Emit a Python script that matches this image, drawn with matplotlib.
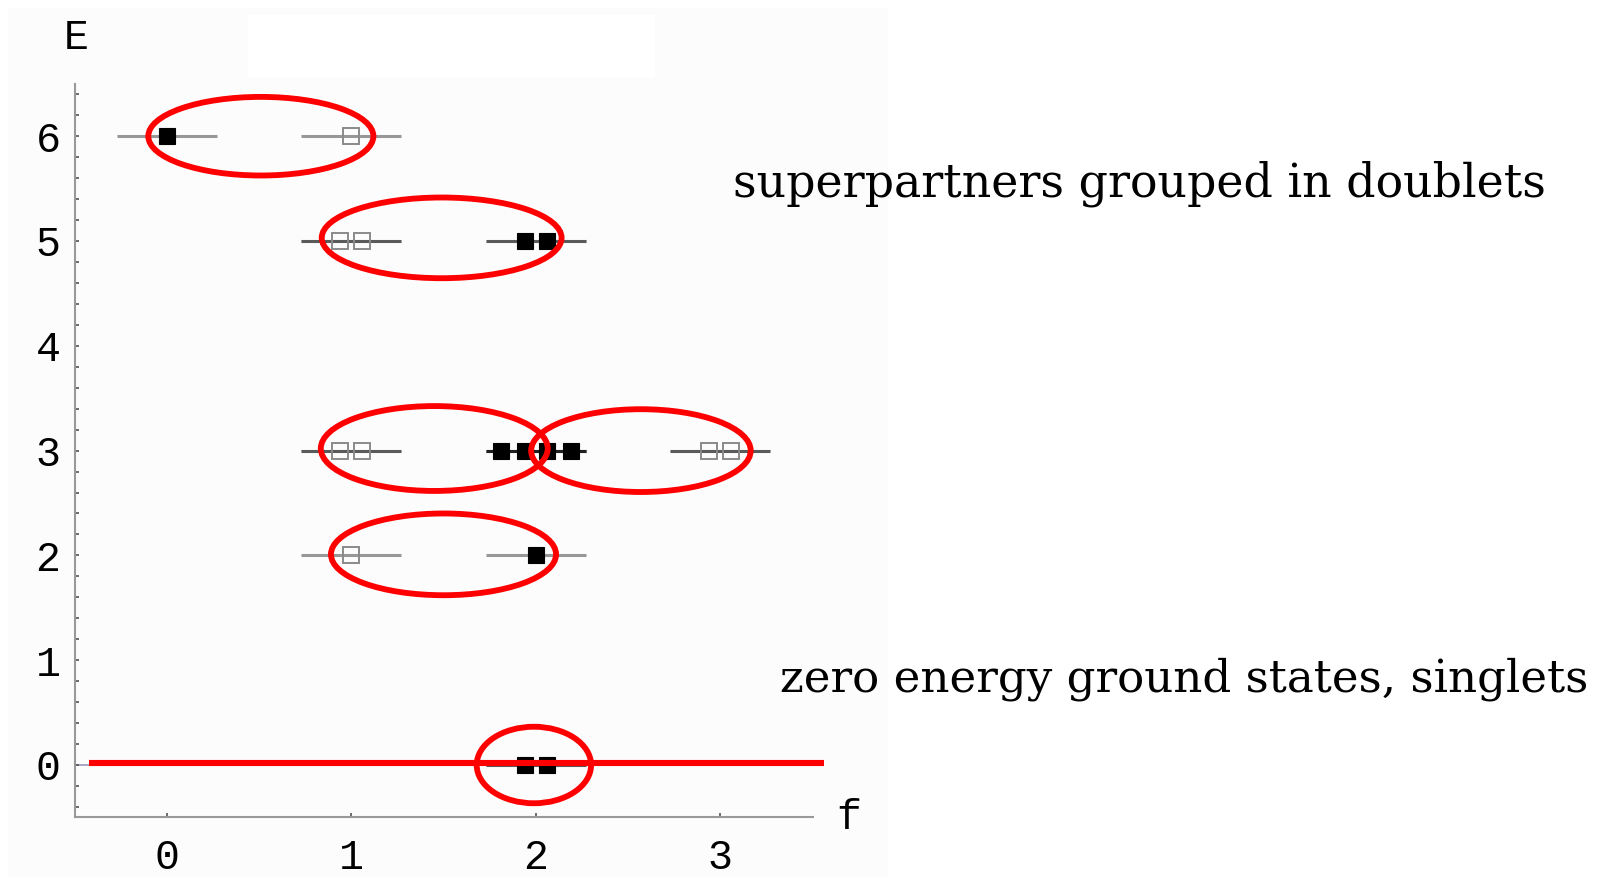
import matplotlib.pyplot as plt
from matplotlib.patches import Ellipse, Rectangle

# filled squares
boson_f = [0, 1.94, 2.06, 1.81, 1.94, 2.06, 2.19, 2, 1.94, 2.06]
boson_E = [6, 5, 5, 3, 3, 3, 3, 2, 0, 0]
# open squares
fermion_f = [1, 0.94, 1.06, 0.94, 1.06, 2.94, 3.06, 1]
fermion_E = [6, 5, 5, 3, 3, 3, 3, 2]

x_ticks = [0, 1, 2, 3]
y_ticks = [0, 1, 2, 3, 4, 5, 6]

# red hand-drawn marks: doublets / singlet
ell_f = [0.51, 1.49, 1.45, 2.57, 1.50, 1.99]
ell_E = [6.0, 5.03, 3.02, 3.0, 2.01, 0.0]
ell_w = [1.22, 1.30, 1.23, 1.19, 1.22, 0.62]
ell_h = [0.75, 0.77, 0.81, 0.79, 0.78, 0.73]

text_doublets = "superpartners grouped in doublets"
text_singlets = "zero energy ground states, singlets"

W, H = 1604, 881
fig = plt.figure(figsize=(W / 100, H / 100), dpi=100)
fig.patch.set_facecolor("white")

# light grey notebook background and white box on top
fig.add_artist(Rectangle((8 / W, 1 - 878 / H), 880 / W, 870 / H, transform=fig.transFigure,
                         facecolor="#fcfcfc", edgecolor="none", zorder=-10))
fig.add_artist(Rectangle((248 / W, 1 - 77 / H), 407 / W, 62 / H, transform=fig.transFigure,
                         facecolor="white", edgecolor="none", zorder=-9))

ax = fig.add_axes([74.5 / W, (H - 817.4) / H, 738 / W, (817.4 - 83.8) / H])
ax.set_facecolor("none")
ax.set_xlim(-0.5, 3.5)
ax.set_ylim(-0.5, 6.5)

# level segments, one per state, so degenerate levels look darker
half = 0.27
for f, E in zip(boson_f + fermion_f, boson_E + fermion_E):
    c = round(f)
    ax.plot([c - half, c + half], [E, E], color="black", alpha=0.4, lw=2.2,
            solid_capstyle="butt", zorder=2)

ax.axhline(0, color="#a0a0c0", lw=1.3, zorder=1)

ax.plot(boson_f, boson_E, ls="none", marker="s", ms=11, mfc="black", mec="black",
        mew=0.8, zorder=4)
ax.plot(fermion_f, fermion_E, ls="none", marker="s", ms=11.5, mfc="none", mec="#8a8a8a",
        mew=1.4, zorder=4)

for f, E, w, h in zip(ell_f, ell_E, ell_w, ell_h):
    ax.add_patch(Ellipse((f, E), w, h, facecolor="none", edgecolor="#ff0000", lw=4.2,
                         zorder=6, clip_on=False))
ax.plot([-0.42, 3.56], [0.02, 0.02], color="#ff0000", lw=4.4, zorder=7, clip_on=False,
        solid_capstyle="butt")

for s in ["top", "right"]:
    ax.spines[s].set_visible(False)
for s in ["left", "bottom"]:
    ax.spines[s].set_color("#999999")
    ax.spines[s].set_linewidth(1.5)

mono = "Liberation Mono"
ax.set_xticks(x_ticks)
ax.set_yticks(y_ticks)
ax.set_yticks([i * 0.2 - 0.4 for i in range(35)], minor=True)
ax.set_xticklabels([str(v) for v in x_ticks], fontfamily=mono, fontsize=30)
ax.set_yticklabels([str(v) for v in y_ticks], fontfamily=mono, fontsize=30)
ax.tick_params(axis="both", which="both", direction="in", color="#555555", width=1.2, length=3)
ax.tick_params(axis="x", pad=15)
ax.tick_params(axis="y", pad=10)

fig.text(76 / W, 1 - 38 / H, "E", fontfamily=mono, fontsize=30, ha="center", va="center")
fig.text(849 / W, 1 - 818 / H, "f", fontfamily=mono, fontsize=30, ha="center", va="center")

fig.text(733 / W, 1 - 184 / H, text_doublets, fontfamily="DejaVu Serif", fontsize=33,
         ha="left", va="center")
fig.text(780 / W, 1 - 679 / H, text_singlets, fontfamily="DejaVu Serif", fontsize=32.5,
         ha="left", va="center")

fig.savefig("out.png", dpi=100)
